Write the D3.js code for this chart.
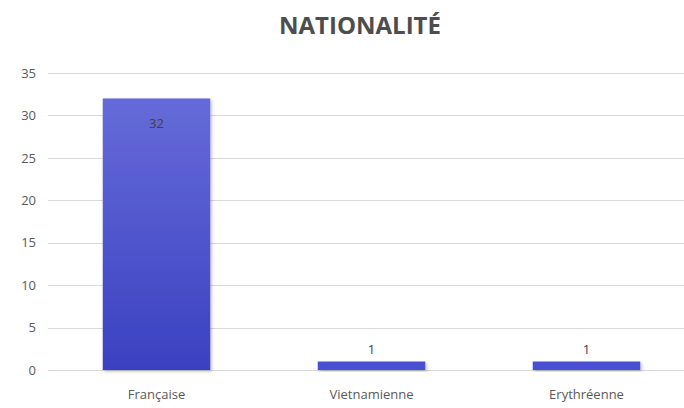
<!DOCTYPE html>
<html>
<head>
<meta charset="utf-8">
<script src="https://cdn.jsdelivr.net/npm/d3@7"></script>
<style>
  html, body { margin: 0; padding: 0; background: #fff; }
  svg { display: block; }
</style>
</head>
<body>
<svg id="chart" width="684" height="408"></svg>
<script>
const categories = ["Française", "Vietnamienne", "Erythréenne"];
const values = [32, 1, 1];
const yTicks = [0, 5, 10, 15, 20, 25, 30, 35];
const title = "NATIONALITÉ";

const W = 684, H = 408;
const margin = { left: 48, right: 0, top: 73, bottom: 38 };
const svg = d3.select("#chart");

const defs = svg.append("defs");
const grad = defs.append("linearGradient")
  .attr("id", "barGrad").attr("x1", 0).attr("y1", 0).attr("x2", 0).attr("y2", 1);
grad.append("stop").attr("offset", "0%").attr("stop-color", "#656bd8");
grad.append("stop").attr("offset", "100%").attr("stop-color", "#3b41c1");

const shadow = defs.append("filter").attr("id", "shadow")
  .attr("x", "-10%").attr("y", "-10%").attr("width", "130%").attr("height", "130%");
shadow.append("feDropShadow")
  .attr("dx", 1.5).attr("dy", 1.5).attr("stdDeviation", 1.8)
  .attr("flood-color", "#000").attr("flood-opacity", 0.25);

const x = d3.scaleBand()
  .domain(categories)
  .range([margin.left + 1, margin.left + 1 + 645])
  .paddingInner(0.5)
  .paddingOuter(0.25);

const y = d3.scaleLinear()
  .domain([0, 35])
  .range([H - margin.bottom, margin.top]);

const font = "'Open Sans', 'Liberation Sans', sans-serif";

// Horizontal gridlines
svg.append("g").selectAll("line")
  .data(yTicks)
  .join("line")
  .attr("x1", margin.left).attr("x2", W)
  .attr("y1", d => Math.round(y(d)) + 0.5).attr("y2", d => Math.round(y(d)) + 0.5)
  .attr("stroke", "#d9d9d9").attr("stroke-width", 1.2);

// Y axis labels
const yAxis = svg.append("g")
  .attr("transform", `translate(${margin.left - 12},0)`)
  .call(d3.axisLeft(y).tickValues(yTicks).tickSize(0).tickPadding(0));
yAxis.select(".domain").remove();
yAxis.selectAll("text")
  .attr("font-family", font)
  .attr("font-size", 13).attr("fill", "#595959");

// Bars
svg.append("g").selectAll("rect")
  .data(categories)
  .join("rect")
  .attr("x", d => x(d))
  .attr("width", x.bandwidth())
  .attr("y", (d, i) => y(values[i]))
  .attr("height", (d, i) => y(0) - y(values[i]))
  .attr("fill", (d, i) => values[i] > 2 ? "url(#barGrad)" : "#4a50d2")
  .attr("filter", "url(#shadow)");

// Value labels
svg.append("g").selectAll("text")
  .data(categories)
  .join("text")
  .attr("x", d => x(d) + x.bandwidth() / 2)
  .attr("y", (d, i) => values[i] > 2 ? y(values[i]) + 30 : y(values[i]) - 8)
  .attr("text-anchor", "middle")
  .attr("font-family", font)
  .attr("font-size", 13)
  .attr("fill", "#404040")
  .text((d, i) => values[i]);

// Category axis labels
const xAxis = svg.append("g")
  .attr("transform", `translate(0,${y(0) + 20})`)
  .call(d3.axisBottom(x).tickSize(0).tickPadding(0));
xAxis.select(".domain").remove();
xAxis.selectAll("text")
  .attr("font-family", font)
  .attr("font-size", 13).attr("fill", "#595959");

// Title
svg.append("text")
  .attr("x", 360).attr("y", 34)
  .attr("text-anchor", "middle")
  .attr("font-family", font)
  .attr("font-weight", "bold")
  .attr("font-size", 24)
  .attr("fill", "#4d4d4d")
  .text(title);
</script>
</body>
</html>
